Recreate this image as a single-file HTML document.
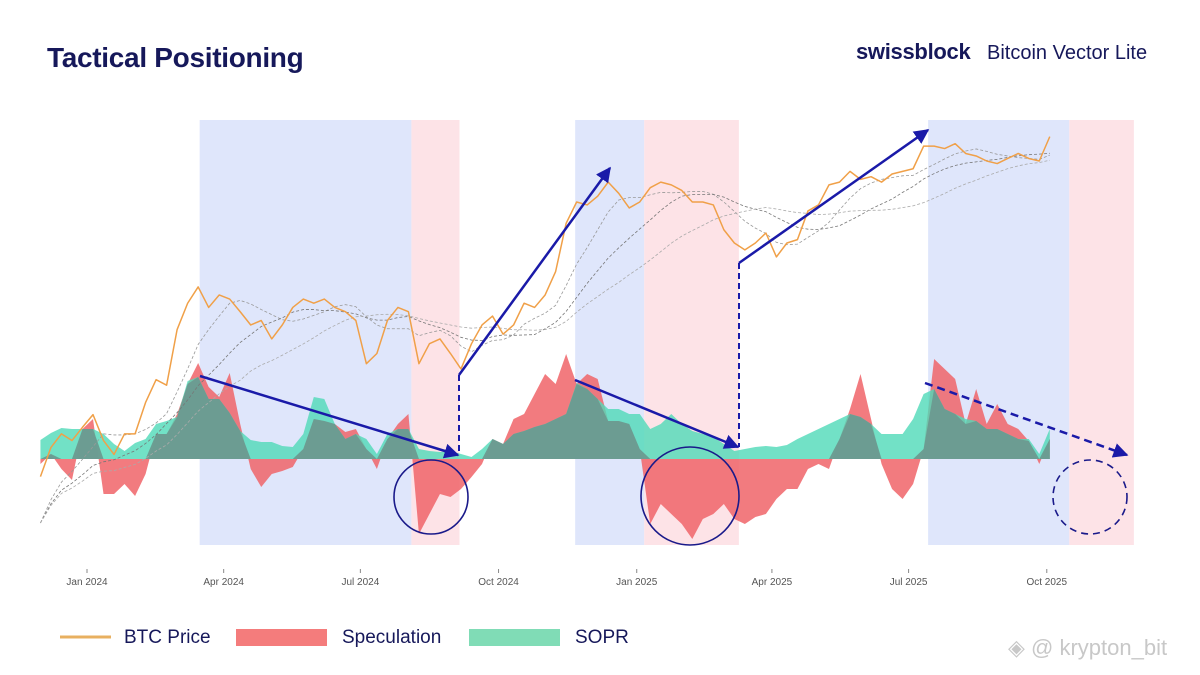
<!DOCTYPE html>
<html><head><meta charset="utf-8"><style>
html,body{margin:0;padding:0;background:#fff;}
body{width:1200px;height:675px;overflow:hidden;position:relative;font-family:"Liberation Sans",sans-serif;}
.t{position:absolute;white-space:nowrap;}
</style></head><body>
<div class="t" style="left:47px;top:42px;font-size:28px;font-weight:bold;color:#16185a;letter-spacing:-0.3px;">Tactical Positioning</div>
<div class="t" style="left:856px;top:39px;font-size:22px;font-weight:bold;color:#16185a;letter-spacing:-0.3px;">swissblock</div>
<div class="t" style="left:987px;top:42px;font-size:20px;color:#16185a;">Bitcoin Vector Lite</div>
<svg id="chart" width="1200" height="675" style="position:absolute;left:0;top:0;" xmlns="http://www.w3.org/2000/svg">
<defs>
<marker id="ah" viewBox="0 0 10 10" refX="9" refY="5" markerWidth="6" markerHeight="6" orient="auto"><path d="M0,0 L10,5 L0,10 z" fill="#1a1aa8"/></marker>
</defs>
<g id="bands"></g><g id="lower"></g><g id="ma"></g><g id="price"></g><g id="annot"></g><g id="axis"></g>
</svg>
<svg width="1200" height="675" style="position:absolute;left:0;top:0;" xmlns="http://www.w3.org/2000/svg">
<line x1="60" y1="637" x2="111" y2="637" stroke="#e8b060" stroke-width="3"/>
<rect x="236" y="629" width="91" height="17" fill="#f47c7c"/>
<rect x="469" y="629" width="91" height="17" fill="#80dcb6"/>
</svg>
<div class="t" style="left:124px;top:627px;font-size:19px;color:#16185a;">BTC Price</div>
<div class="t" style="left:342px;top:627px;font-size:19px;color:#16185a;">Speculation</div>
<div class="t" style="left:575px;top:627px;font-size:19px;color:#16185a;">SOPR</div>
<div class="t" style="left:1008px;top:635px;font-size:22px;color:#c8c8c8;">◈ @ krypton_bit</div>
<script>
const prices=[37,41,43,42,44,46,42,40,43,43,48,52,51,62,68,72,67,70,69,66,63,64,60,63,67,69,68,69,67,66,64,55,57,64,67,66,55,59,60,57,54,59,63,65,61,63,68,67,70,76,90,97,96,99,104,100,95,97,102,104,103,101,97,97,96,88,84,82,84,87,80,84,85,94,96,103,104,108,105,106,104,107,108,109,118,118,117,119,115,114,112,111,113,115,113,112,122];
const speculation=[-0.05,0.05,-0.1,-0.21,0.3,0.4,-0.35,-0.35,-0.25,-0.37,-0.15,0.25,0.25,0.45,0.75,0.96,0.72,0.62,0.86,0.35,-0.1,-0.28,-0.15,-0.12,-0.08,0.1,0.4,0.38,0.35,0.27,0.3,0.1,-0.1,0.2,0.35,0.45,-0.75,-0.55,-0.35,-0.38,-0.3,-0.18,-0.05,0.2,0.15,0.4,0.45,0.65,0.85,0.75,1.05,0.75,0.85,0.8,0.38,0.38,0.35,0.1,-0.65,-0.45,-0.55,-0.65,-0.8,-0.6,-0.55,-0.45,-0.6,-0.65,-0.58,-0.55,-0.4,-0.3,-0.3,-0.1,-0.05,-0.1,0.2,0.5,0.85,0.4,-0.05,-0.3,-0.4,-0.25,0.1,1.0,0.9,0.8,0.35,0.7,0.35,0.55,0.35,0.3,0.18,-0.05,0.2];
const sopr=[0.19,0.26,0.31,0.3,0.3,0.3,0.25,0.15,0.08,0.16,0.2,0.35,0.38,0.42,0.78,0.82,0.6,0.6,0.46,0.28,0.19,0.17,0.17,0.13,0.12,0.25,0.62,0.6,0.35,0.2,0.25,0.2,0.05,0.25,0.3,0.3,0.1,0.08,0.07,0.08,0.05,0.02,0.1,0.2,0.15,0.25,0.28,0.32,0.35,0.4,0.45,0.76,0.7,0.6,0.5,0.5,0.45,0.45,0.3,0.35,0.45,0.35,0.28,0.25,0.22,0.15,0.08,0.1,0.12,0.13,0.12,0.14,0.2,0.25,0.3,0.35,0.4,0.45,0.42,0.35,0.25,0.25,0.25,0.4,0.65,0.7,0.5,0.45,0.4,0.38,0.3,0.3,0.25,0.2,0.2,0.05,0.3];
const tickLabels=["Jan 2024","Apr 2024","Jul 2024","Oct 2024","Jan 2025","Apr 2025","Jul 2025","Oct 2025"];
const tickDates=["2024-01-01","2024-04-01","2024-07-01","2024-10-01","2025-01-01","2025-04-01","2025-07-01","2025-10-01"];
const regimeStarts=["2024-03-16","2024-08-04","2024-11-21","2025-01-06","2025-07-14","2025-10-16"];
const regimeEnds=["2024-08-04","2024-09-05","2025-01-06","2025-03-10","2025-10-16","2025-11-28"];
const regimeTypes=["blue","pink","blue","pink","blue","pink"];
const startDate="2023-12-01";

const NS="http://www.w3.org/2000/svg";
const D0=Date.parse("2024-01-01");
function xd(s){return 87+(Date.parse(s)-D0)/864e5*1.502;}
const x0=xd(startDate);
function xi(i){return x0+i*7*1.502;}
function yp(p){return 283-(Math.log(p*1000)-Math.log(73000))*285;}
function yl(v){return 459-v*100;}
function mk(tag,attrs,parent){const e=document.createElementNS(NS,tag);for(const k in attrs)e.setAttribute(k,attrs[k]);parent.appendChild(e);return e;}

const bands=document.getElementById('bands');
regimeStarts.forEach((s,i)=>{
  const r=mk('rect',{x:xd(s),y:120,width:xd(regimeEnds[i])-xd(s),height:425,fill:regimeTypes[i]==="blue"?"#dfe6fb":"#fde3e7"},bands);
  
  
});

const lower=document.getElementById('lower');
function areaPath(vals){
  let d="M"+xi(0)+","+yl(0);
  vals.forEach((v,i)=>{d+=" L"+xi(i)+","+yl(v);});
  d+=" L"+xi(vals.length-1)+","+yl(0)+" Z";return d;
}
const overlap=speculation.map((v,i)=>{const s=sopr[i];return (v>0&&s>0)?Math.min(v,s):0;});
const a1=mk('path',{d:areaPath(speculation),fill:"#f06468","fill-opacity":0.85},lower);


const a2=mk('path',{d:areaPath(sopr),fill:"#4fdab8","fill-opacity":0.8},lower);


const a3=mk('path',{d:areaPath(overlap),fill:"#6c9a90","fill-opacity":0.95},lower);



const ma=document.getElementById('ma');
[6,12,20].forEach((w,k)=>{
  let d="";
  prices.forEach((p,i)=>{
    const lo=Math.max(0,i-w+1);let s=0;for(let j=lo;j<=i;j++)s+=prices[j];
    let m=s/(i-lo+1);
    if(i<w) m=m*(0.85+0.15*i/w);
    d+=(i?" L":"M")+xi(i)+","+yp(m);
  });
  const l=mk('path',{d:d,fill:"none",stroke:["#999","#777","#aaa"][k],"stroke-width":0.8,"stroke-dasharray":"3,2"},ma);
  
  
});

const pg=document.getElementById('price');
let pd="";prices.forEach((p,i)=>{pd+=(i?" L":"M")+xi(i)+","+yp(p);});
const pl=mk('path',{d:pd,fill:"none",stroke:"#f0a048","stroke-width":1.5,"stroke-linejoin":"round"},pg);



const an=document.getElementById('annot');
const arrows=[[200,376,458,455,0],[459,375,610,168,0],[575,380,738,447,0],[739,263,928,130,0],[925,383,1127,455,1]];
arrows.forEach(a=>{
  const l=mk('line',{x1:a[0],y1:a[1],x2:a[2],y2:a[3],stroke:"#1a1aa8","stroke-width":2.5,"marker-end":"url(#ah)"},an);
  if(a[4]) l.setAttribute('stroke-dasharray','8,5');
  
  
});
[[459,375,459,455],[739,263,739,447]].forEach(v=>{
  const l=mk('line',{x1:v[0],y1:v[1],x2:v[2],y2:v[3],stroke:"#1a1aa8","stroke-width":2,"stroke-dasharray":"6,4"},an);
  
  
});
[[431,497,37,0],[690,496,49,0],[1090,497,37,1]].forEach(c=>{
  const e=mk('circle',{cx:c[0],cy:c[1],r:c[2],fill:"none",stroke:"#1a1a8a","stroke-width":1.6},an);
  if(c[3]) e.setAttribute('stroke-dasharray','7,5');
  
  
});

const ax=document.getElementById('axis');
tickDates.forEach((t,i)=>{
  const x=xd(t);
  const tk=mk('line',{x1:x,y1:569,x2:x,y2:573,stroke:"#888","stroke-width":1},ax);
  
  
  const tx=mk('text',{x:x,y:585,"text-anchor":"middle","font-size":10,fill:"#555","font-family":"Liberation Sans, sans-serif"},ax);
  tx.textContent=tickLabels[i];
  
  
});
</script>
</body></html>
